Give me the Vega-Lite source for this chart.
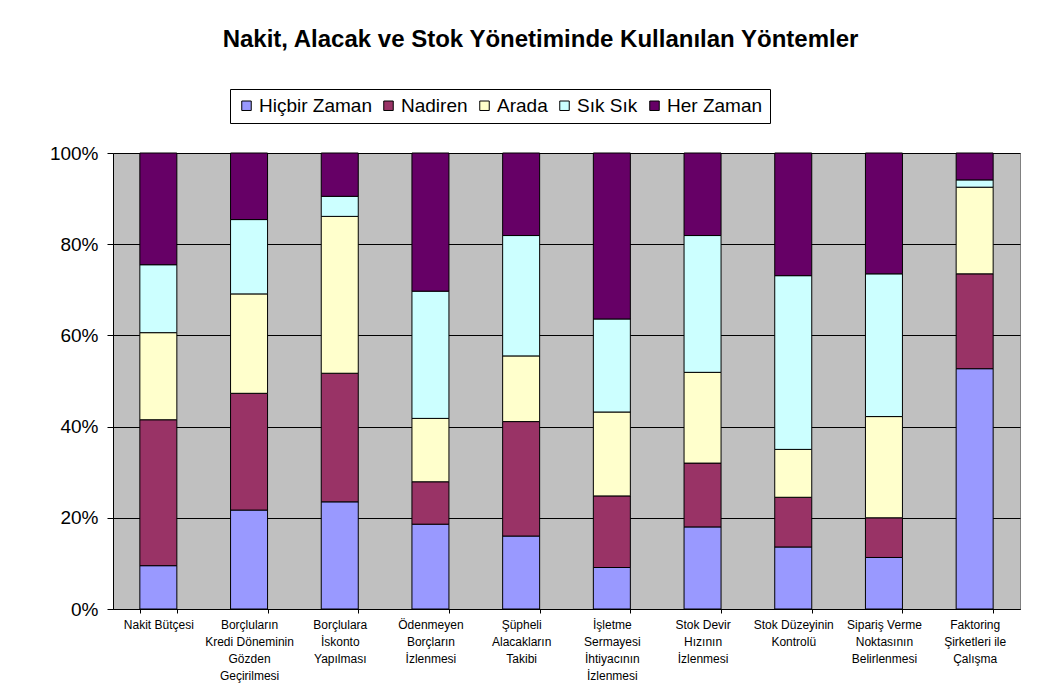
{
  "$schema": "https://vega.github.io/schema/vega-lite/v6.json",
  "width": 907,
  "height": 456,
  "autosize": {"type": "none"},
  "padding": {"left": 113, "top": 153, "right": 19, "bottom": 84},
  "background": "white",
  "title": {
    "text": "Nakit, Alacak ve Stok Yönetiminde Kullanılan Yöntemler",
    "font": "Liberation Sans",
    "fontSize": 24,
    "fontWeight": "bold",
    "color": "black",
    "anchor": "middle",
    "frame": "group",
    "dx": -26,
    "offset": 37
  },
  "data": {
    "values": [
      {"item": "Nakit Bütçesi", "cat": "Hiçbir Zaman", "k": 1, "pct": 9.5},
      {"item": "Nakit Bütçesi", "cat": "Nadiren", "k": 2, "pct": 32.0},
      {"item": "Nakit Bütçesi", "cat": "Arada", "k": 3, "pct": 19.1},
      {"item": "Nakit Bütçesi", "cat": "Sık Sık", "k": 4, "pct": 14.9},
      {"item": "Nakit Bütçesi", "cat": "Her Zaman", "k": 5, "pct": 24.5},
      {"item": "Borçluların|Kredi Döneminin|Gözden|Geçirilmesi", "cat": "Hiçbir Zaman", "k": 1, "pct": 21.7},
      {"item": "Borçluların|Kredi Döneminin|Gözden|Geçirilmesi", "cat": "Nadiren", "k": 2, "pct": 25.6},
      {"item": "Borçluların|Kredi Döneminin|Gözden|Geçirilmesi", "cat": "Arada", "k": 3, "pct": 21.8},
      {"item": "Borçluların|Kredi Döneminin|Gözden|Geçirilmesi", "cat": "Sık Sık", "k": 4, "pct": 16.3},
      {"item": "Borçluların|Kredi Döneminin|Gözden|Geçirilmesi", "cat": "Her Zaman", "k": 5, "pct": 14.6},
      {"item": "Borçlulara|İskonto|Yapılması", "cat": "Hiçbir Zaman", "k": 1, "pct": 23.5},
      {"item": "Borçlulara|İskonto|Yapılması", "cat": "Nadiren", "k": 2, "pct": 28.2},
      {"item": "Borçlulara|İskonto|Yapılması", "cat": "Arada", "k": 3, "pct": 34.4},
      {"item": "Borçlulara|İskonto|Yapılması", "cat": "Sık Sık", "k": 4, "pct": 4.4},
      {"item": "Borçlulara|İskonto|Yapılması", "cat": "Her Zaman", "k": 5, "pct": 9.5},
      {"item": "Ödenmeyen|Borçların|İzlenmesi", "cat": "Hiçbir Zaman", "k": 1, "pct": 18.6},
      {"item": "Ödenmeyen|Borçların|İzlenmesi", "cat": "Nadiren", "k": 2, "pct": 9.3},
      {"item": "Ödenmeyen|Borçların|İzlenmesi", "cat": "Arada", "k": 3, "pct": 13.9},
      {"item": "Ödenmeyen|Borçların|İzlenmesi", "cat": "Sık Sık", "k": 4, "pct": 27.9},
      {"item": "Ödenmeyen|Borçların|İzlenmesi", "cat": "Her Zaman", "k": 5, "pct": 30.3},
      {"item": "Şüpheli|Alacakların|Takibi", "cat": "Hiçbir Zaman", "k": 1, "pct": 16.0},
      {"item": "Şüpheli|Alacakların|Takibi", "cat": "Nadiren", "k": 2, "pct": 25.1},
      {"item": "Şüpheli|Alacakların|Takibi", "cat": "Arada", "k": 3, "pct": 14.4},
      {"item": "Şüpheli|Alacakların|Takibi", "cat": "Sık Sık", "k": 4, "pct": 26.4},
      {"item": "Şüpheli|Alacakların|Takibi", "cat": "Her Zaman", "k": 5, "pct": 18.1},
      {"item": "İşletme|Sermayesi|İhtiyacının|İzlenmesi", "cat": "Hiçbir Zaman", "k": 1, "pct": 9.1},
      {"item": "İşletme|Sermayesi|İhtiyacının|İzlenmesi", "cat": "Nadiren", "k": 2, "pct": 15.7},
      {"item": "İşletme|Sermayesi|İhtiyacının|İzlenmesi", "cat": "Arada", "k": 3, "pct": 18.4},
      {"item": "İşletme|Sermayesi|İhtiyacının|İzlenmesi", "cat": "Sık Sık", "k": 4, "pct": 20.4},
      {"item": "İşletme|Sermayesi|İhtiyacının|İzlenmesi", "cat": "Her Zaman", "k": 5, "pct": 36.4},
      {"item": "Stok Devir|Hızının|İzlenmesi", "cat": "Hiçbir Zaman", "k": 1, "pct": 18.0},
      {"item": "Stok Devir|Hızının|İzlenmesi", "cat": "Nadiren", "k": 2, "pct": 14.0},
      {"item": "Stok Devir|Hızının|İzlenmesi", "cat": "Arada", "k": 3, "pct": 19.9},
      {"item": "Stok Devir|Hızının|İzlenmesi", "cat": "Sık Sık", "k": 4, "pct": 30.0},
      {"item": "Stok Devir|Hızının|İzlenmesi", "cat": "Her Zaman", "k": 5, "pct": 18.1},
      {"item": "Stok Düzeyinin|Kontrolü", "cat": "Hiçbir Zaman", "k": 1, "pct": 13.6},
      {"item": "Stok Düzeyinin|Kontrolü", "cat": "Nadiren", "k": 2, "pct": 10.9},
      {"item": "Stok Düzeyinin|Kontrolü", "cat": "Arada", "k": 3, "pct": 10.5},
      {"item": "Stok Düzeyinin|Kontrolü", "cat": "Sık Sık", "k": 4, "pct": 38.1},
      {"item": "Stok Düzeyinin|Kontrolü", "cat": "Her Zaman", "k": 5, "pct": 26.9},
      {"item": "Sipariş Verme|Noktasının|Belirlenmesi", "cat": "Hiçbir Zaman", "k": 1, "pct": 11.3},
      {"item": "Sipariş Verme|Noktasının|Belirlenmesi", "cat": "Nadiren", "k": 2, "pct": 8.7},
      {"item": "Sipariş Verme|Noktasının|Belirlenmesi", "cat": "Arada", "k": 3, "pct": 22.2},
      {"item": "Sipariş Verme|Noktasının|Belirlenmesi", "cat": "Sık Sık", "k": 4, "pct": 31.3},
      {"item": "Sipariş Verme|Noktasının|Belirlenmesi", "cat": "Her Zaman", "k": 5, "pct": 26.5},
      {"item": "Faktoring|Şirketleri ile|Çalışma", "cat": "Hiçbir Zaman", "k": 1, "pct": 52.7},
      {"item": "Faktoring|Şirketleri ile|Çalışma", "cat": "Nadiren", "k": 2, "pct": 20.8},
      {"item": "Faktoring|Şirketleri ile|Çalışma", "cat": "Arada", "k": 3, "pct": 19.0},
      {"item": "Faktoring|Şirketleri ile|Çalışma", "cat": "Sık Sık", "k": 4, "pct": 1.6},
      {"item": "Faktoring|Şirketleri ile|Çalışma", "cat": "Her Zaman", "k": 5, "pct": 5.9}
    ]
  },
  "mark": {"type": "bar", "stroke": "black", "strokeWidth": 1},
  "encoding": {
    "x": {
      "field": "item",
      "type": "nominal",
      "sort": null,
      "scale": {"paddingInner": 0.592, "paddingOuter": 0.296},
      "axis": {
        "title": null,
        "labelAngle": 0,
        "labelExpr": "split(datum.label, '|')",
        "labelFont": "Liberation Sans",
        "labelFontSize": 12,
        "labelLineHeight": 17,
        "labelColor": "black",
        "labelBaseline": "top",
        "labelPadding": 6,
        "labelLimit": 0,
        "tickBand": "extent",
        "tickSize": 4,
        "tickColor": "black",
        "domainColor": "black",
        "grid": false
      }
    },
    "y": {
      "field": "pct",
      "type": "quantitative",
      "stack": "normalize",
      "scale": {"domain": [0, 1], "nice": false},
      "axis": {
        "title": null,
        "values": [0, 0.2, 0.4, 0.6, 0.8, 1],
        "format": ".0%",
        "labelFont": "Liberation Sans",
        "labelFontSize": 19,
        "labelColor": "black",
        "labelPadding": 9,
        "tickSize": 6,
        "tickColor": "black",
        "domainColor": "black",
        "grid": true,
        "gridColor": "black",
        "gridOpacity": 1,
        "gridWidth": 1
      }
    },
    "order": {"field": "k", "type": "quantitative", "sort": "ascending"},
    "color": {
      "field": "cat",
      "type": "nominal",
      "sort": ["Hiçbir Zaman", "Nadiren", "Arada", "Sık Sık", "Her Zaman"],
      "scale": {
        "domain": ["Hiçbir Zaman", "Nadiren", "Arada", "Sık Sık", "Her Zaman"],
        "range": ["#9999FF", "#993366", "#FFFFCC", "#CCFFFF", "#660066"]
      },
      "legend": {
        "title": null,
        "orient": "none",
        "direction": "horizontal",
        "columns": 5,
        "legendX": 117,
        "legendY": -64,
        "symbolType": "square",
        "symbolSize": 90,
        "symbolStrokeColor": "black",
        "symbolStrokeWidth": 1,
        "symbolOpacity": 1,
        "labelFont": "Liberation Sans",
        "labelFontSize": 19,
        "labelColor": "black",
        "labelOffset": 3,
        "columnPadding": 7,
        "padding": 7,
        "strokeColor": "black",
        "fillColor": "white"
      }
    }
  },
  "config": {
    "view": {"fill": "#C0C0C0", "stroke": "#808080", "strokeWidth": 1}
  }
}
